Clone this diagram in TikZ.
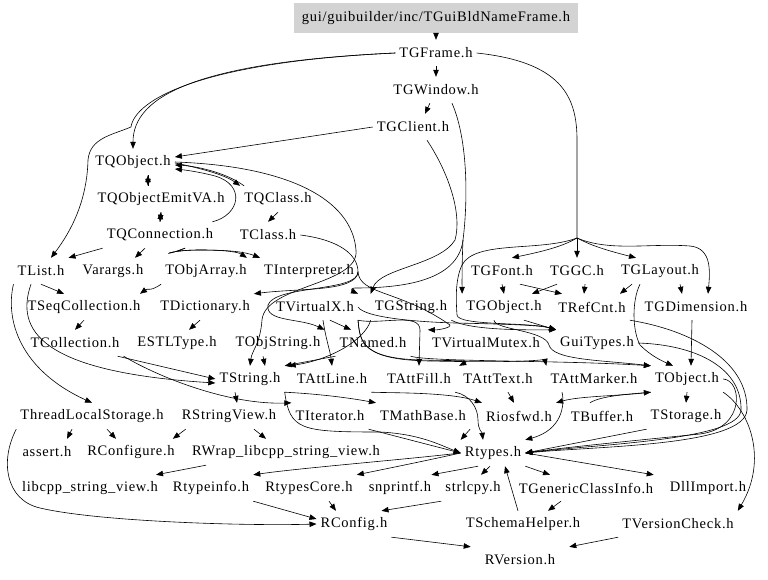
\documentclass[tikz,border=0pt]{standalone}
\usepackage{fontspec}
\setmainfont{Liberation Serif}[LetterSpace=5]
\usetikzlibrary{arrows.meta}
\definecolor{rootgray}{RGB}{211,211,211}
\begin{document}
\begin{tikzpicture}[x=1pt,y=-1pt,
  hdr/.style={inner xsep=4pt, inner ysep=0pt, minimum height=26pt, font=\fontsize{14.5}{16}\selectfont},
  dep/.style={line width=0.6pt, -{Triangle[length=7pt,width=5.5pt]}},
  plain/.style={line width=0.6pt}]
\useasboundingbox (0,0) rectangle (768,580);
\node[hdr, fill=rootgray, minimum width=284pt, minimum height=30pt] (root) at (436,18) {gui/guibuilder/inc/TGuiBldNameFrame.h};
\node[hdr] (gframe) at (436,53) {TGFrame.h};
\node[hdr] (gwindow) at (436,90) {TGWindow.h};
\node[hdr] (gclient) at (413,127) {TGClient.h};
\node[hdr] (qobject) at (133,162) {TQObject.h};
\node[hdr] (qemit) at (161,199) {TQObjectEmitVA.h};
\node[hdr] (qclass) at (278,199) {TQClass.h};
\node[hdr] (qconn) at (160,235) {TQConnection.h};
\node[hdr] (tclass) at (268,235) {TClass.h};
\node[hdr] (tlist) at (41,271) {TList.h};
\node[hdr] (varargs) at (113,271) {Varargs.h};
\node[hdr] (objarray) at (206,271) {TObjArray.h};
\node[hdr] (interp) at (309,271) {TInterpreter.h};
\node[hdr] (gfont) at (502,271) {TGFont.h};
\node[hdr] (ggc) at (577,271) {TGGC.h};
\node[hdr] (glayout) at (660,271) {TGLayout.h};
\node[hdr] (seqcoll) at (84,307) {TSeqCollection.h};
\node[hdr] (dict) at (205,307) {TDictionary.h};
\node[hdr] (vx) at (315,307) {TVirtualX.h};
\node[hdr] (gstring) at (411,307) {TGString.h};
\node[hdr] (gobject) at (504,307) {TGObject.h};
\node[hdr] (refcnt) at (592,307) {TRefCnt.h};
\node[hdr] (gdim) at (696,307) {TGDimension.h};
\node[hdr] (coll) at (75,343) {TCollection.h};
\node[hdr] (estl) at (177,343) {ESTLType.h};
\node[hdr] (objstr) at (278,343) {TObjString.h};
\node[hdr] (named) at (373,343) {TNamed.h};
\node[hdr] (vmutex) at (486,343) {TVirtualMutex.h};
\node[hdr] (guitypes) at (597,343) {GuiTypes.h};
\node[hdr] (string) at (250,379) {TString.h};
\node[hdr] (attline) at (332,379) {TAttLine.h};
\node[hdr] (attfill) at (419,379) {TAttFill.h};
\node[hdr] (atttext) at (498,379) {TAttText.h};
\node[hdr] (attmarker) at (594,379) {TAttMarker.h};
\node[hdr] (object) at (687,379) {TObject.h};
\node[hdr] (tls) at (92,416) {ThreadLocalStorage.h};
\node[hdr] (rsv) at (229,416) {RStringView.h};
\node[hdr] (iter) at (330,416) {TIterator.h};
\node[hdr] (mathbase) at (423,416) {TMathBase.h};
\node[hdr] (riosfwd) at (519,416) {Riosfwd.h};
\node[hdr] (buffer) at (602,416) {TBuffer.h};
\node[hdr] (storage) at (686,416) {TStorage.h};
\node[hdr] (assert) at (47,452) {assert.h};
\node[hdr] (rconfigure) at (131,452) {RConfigure.h};
\node[hdr] (rwrap) at (286,452) {RWrap\_libcpp\_string\_view.h};
\node[hdr] (rtypes) at (493,453) {Rtypes.h};
\node[hdr] (libcpp) at (90,488) {libcpp\_string\_view.h};
\node[hdr] (rtypeinfo) at (211,488) {Rtypeinfo.h};
\node[hdr] (rtypescore) at (309,488) {RtypesCore.h};
\node[hdr] (snprintf) at (400,488) {snprintf.h};
\node[hdr] (strlcpy) at (473,488) {strlcpy.h};
\node[hdr] (gci) at (586,488) {TGenericClassInfo.h};
\node[hdr] (dllimport) at (708,488) {DllImport.h};
\node[hdr] (rconfig) at (354,524) {RConfig.h};
\node[hdr] (schema) at (523,524) {TSchemaHelper.h};
\node[hdr] (vcheck) at (678,524) {TVersionCheck.h};
\node[hdr] (rversion) at (520,560) {RVersion.h};
\coordinate (trunk) at (577,238);
\coordinate (cj) at (358,272);
\coordinate (wj) at (463,240);

% top chain
\draw[dep] (root) -- (gframe);
\draw[dep] (gframe) -- (gwindow);
\draw[dep] (gwindow) -- ([xshift=12pt]gclient.north);
\draw[dep] (gframe.west) .. controls (200,62) and (133,95) .. (qobject.north);
\draw[plain] (gframe.west) .. controls (200,62) and (135,100) .. (131,127);
\draw[dep] (131,127) .. controls (112,135) and (90,138) .. (88,160) .. controls (87,200) and (72,230) .. ([xshift=10pt]tlist.north);
% TGFrame right trunk
\draw[plain] (gframe.east) .. controls (560,62) and (577,95) .. (577,140) -- (trunk);
\draw[dep] (trunk) .. controls (565,245) and (550,250) .. ([xshift=10pt]gfont.north);
\draw[dep] (trunk) -- (ggc.north);
\draw[dep] (trunk) .. controls (590,245) and (605,250) .. ([xshift=-24pt]glayout.north);
\draw[dep] (trunk) .. controls (610,252) and (650,243) .. (690,246) .. controls (712,248) and (710,272) .. ([xshift=12pt]gdim.north);
\draw[dep] (trunk) .. controls (540,252) and (475,240) .. (462,265) .. controls (455,280) and (456,300) .. (457,315) .. controls (458,326) and (530,322) .. (guitypes.north west);
% TGWindow / TGClient
\draw[dep] (gclient.west) -- ([yshift=5pt]qobject.east);
\draw[dep] ([xshift=14pt]gclient.south) .. controls (450,175) and (462,215) .. (455,240) .. controls (440,265) and (380,268) .. (gstring.north west);
\draw[plain] ([xshift=16pt]gwindow.south) .. controls (468,140) and (468,200) .. (wj);
\draw[dep] (wj) .. controls (462,262) and (462,280) .. (gobject.north west);
\draw[dep] (wj) .. controls (458,282) and (400,288) .. (355,288) .. controls (352,288) and (350,290) .. (vx.north east);
% TQObject cluster
\draw[dep] ([xshift=15pt]qobject.south) -- ([xshift=-13pt]qemit.north);
\draw[dep] ([xshift=-13pt]qemit.north) -- ([xshift=15pt]qobject.south);
\draw[dep] (qemit.south) -- (qconn.north);
\draw[dep] (qconn.north) -- (qemit.south);
\draw[dep] ([yshift=-1pt]qobject.east) .. controls (200,168) and (225,175) .. (qclass.north west);
\draw[dep] ([xshift=4pt]qclass.north west) .. controls (225,172) and (195,166) .. ([yshift=-3pt]qobject.east);
\draw[dep] ([xshift=-5pt]qconn.north east) .. controls (240,215) and (246,185) .. (215,176) .. controls (200,172) and (185,170) .. ([yshift=-7pt]qobject.east);
\draw[dep] (qclass.south) -- (tclass.north);
\draw[dep] (qconn.south west) -- (tlist.north east);
\draw[dep] ([xshift=-15pt]qconn.south) -- ([xshift=22pt]varargs.north);
\draw[dep] (qobject.east) .. controls (290,166) and (352,200) .. (356,250) .. controls (360,285) and (265,285) .. (262,320) .. controls (260,345) and (252,350) .. (string.north);
\draw[dep] ([xshift=25pt]qconn.south) .. controls (160,258) and (165,250) .. (200,250) .. controls (230,250) and (245,252) .. (interp.north west);
\draw[dep] ([xshift=25pt]qconn.south) .. controls (160,258) and (165,250) .. (200,250) .. controls (225,250) and (238,252) .. ([xshift=-4pt]objarray.north east);
% TClass
\draw[plain] (tclass.east) .. controls (340,240) and (358,255) .. (cj);
\draw[dep] (cj) .. controls (356,292) and (300,288) .. (dict.north east);
\draw[dep] (cj) .. controls (358,292) and (275,285) .. (268,305) .. controls (265,322) and (300,318) .. (objstr.north east);
\draw[dep] (cj) .. controls (360,295) and (400,290) .. (450,325) .. controls (452,327) and (440,330) .. (vmutex.north west);
% collections
\draw[dep] (tlist.south) -- ([xshift=-20pt]seqcoll.north);
\draw[dep] (objarray.south west) .. controls (150,292) and (148,288) .. ([xshift=56pt]seqcoll.north);
\draw[dep] (seqcoll.south) -- (coll.north);
\draw[dep] ([xshift=-6pt]coll.south east) -- (string.west);
\draw[dep] (coll.south east) .. controls (160,378) and (230,405) .. (iter.north west);
\draw[dep] (tlist.south west) .. controls (5,320) and (20,370) .. (tls.north);
\draw[dep] ([xshift=-10pt]tlist.south) .. controls (15,330) and (40,372) .. ([yshift=-4pt]string.west);
\draw[dep] ([xshift=-5pt]dict.south) -- ([xshift=12pt]estl.north);
\draw[dep] ([xshift=-15pt]objstr.south) -- ([xshift=15pt]string.north);
\draw[dep] (named.south west) -- (string.north east);
% TVirtualX
\draw[dep] ([xshift=15pt]vx.south) -- ([xshift=-22pt]named.north);
\draw[dep] ([xshift=8pt]vx.south) .. controls (326,340) and (330,350) .. (attline.north);
\draw[dep] (vx.south east) .. controls (380,325) and (420,312) .. (420,330) -- (attfill.north);
\draw[dep] (vx.south east) .. controls (360,340) and (360,358) .. (420,360) .. controls (460,361) and (470,360) .. (atttext.north west);
\draw[dep] (vx.south east) .. controls (360,342) and (362,360) .. (430,361) .. controls (520,363) and (545,360) .. (attmarker.north west);
\draw[dep] (vx.east) .. controls (365,318) and (420,322) .. (455,323) .. controls (500,324) and (540,325) .. (guitypes.north west);
\draw[dep] (named.south east) .. controls (430,362) and (560,360) .. (object.north west);
% TG* others
\draw[dep] (gstring.south west) .. controls (365,340) and (330,360) .. ([xshift=4pt]string.north east);
\draw[dep] (gstring.south east) .. controls (470,330) and (520,330) .. (guitypes.north west);
\draw[dep] ([xshift=-10pt]gobject.south) .. controls (495,330) and (545,330) .. (549,345) .. controls (553,360) and (600,360) .. (object.north west);
\draw[dep] ([xshift=20pt]gobject.south) -- (guitypes.north west);
\draw[dep] (gfont.south) -- (gobject.north);
\draw[dep] ([xshift=18pt]gfont.south) -- ([xshift=-30pt]refcnt.north);
\draw[dep] ([xshift=-20pt]ggc.south) -- ([xshift=28pt]gobject.north);
\draw[dep] ([xshift=8pt]ggc.south) -- ([xshift=-8pt]refcnt.north);
\draw[dep] ([xshift=-28pt]glayout.south) -- ([xshift=28pt]refcnt.north);
\draw[dep] ([xshift=20pt]glayout.south) -- ([xshift=-14pt]gdim.north);
\draw[dep] ([xshift=-20pt]glayout.south) .. controls (632,300) and (632,330) .. (640,345) .. controls (650,355) and (660,360) .. ([xshift=-14pt]object.north);
\draw[dep] ([xshift=-4pt]gdim.south) -- ([xshift=4pt]object.north);
\draw[dep] (refcnt.south east) .. controls (690,330) and (748,360) .. (747,410) .. controls (745,446) and (600,446) .. (rtypes.east);
\draw[dep] (guitypes.east) .. controls (700,345) and (742,370) .. (741,410) .. controls (740,440) and (600,444) .. (rtypes.east);
% TString and friends
\draw[dep] ([xshift=-15pt]string.south) -- ([xshift=8pt]rsv.north);
\draw[dep] (string.south east) .. controls (320,394) and (350,398) .. (mathbase.north west);
\draw[dep] (string.south east) .. controls (290,430) and (300,432) .. (380,432) .. controls (420,434) and (440,445) .. (rtypes.west);
\draw[dep] (attline.south east) .. controls (390,393) and (450,392) .. (riosfwd.north west);
\draw[dep] ([xshift=10pt]atttext.south) -- ([xshift=-5pt]riosfwd.north);
\draw[dep] (attfill.south east) .. controls (470,395) and (478,408) .. (478,420) .. controls (478,430) and (482,432) .. ([xshift=-10pt]rtypes.north);
\draw[dep] ([xshift=-32pt]attmarker.south) .. controls (565,405) and (562,430) .. (rtypes.north east);
\draw[dep] (object.south west) .. controls (620,396) and (580,396) .. (riosfwd.north east);
\draw[dep] ([xshift=-12pt]buffer.north) .. controls (600,396) and (630,394) .. (object.south west);
\draw[dep] (object.south) -- (storage.north);
\draw[dep] (object.east) .. controls (742,380) and (746,428) .. (700,434) .. controls (620,442) and (560,448) .. (rtypes.east);
\draw[dep] (storage.south west) -- (rtypes.east);
\draw[dep] (object.south east) .. controls (750,410) and (768,460) .. (vcheck.north east);
\draw[dep] (mathbase.south east) -- (rtypes.north west);
\draw[dep] (iter.south east) -- (rtypes.west);
% Rtypes
\draw[dep] (rtypes.west) .. controls (400,460) and (300,468) .. (rtypeinfo.north east);
\draw[dep] (rtypes.west) .. controls (420,462) and (380,470) .. (rtypescore.north east);
\draw[dep] ([xshift=-15pt]rtypes.south) -- ([xshift=-4pt]snprintf.north east);
\draw[dep] ([xshift=-3pt]rtypes.south) -- ([xshift=8pt]strlcpy.north);
\draw[dep] (rtypes.south east) -- ([xshift=-36pt]gci.north);
\draw[dep] (rtypes.east) -- ([xshift=-12pt]dllimport.north west);
\draw[dep] ([xshift=-5pt]schema.north) -- ([xshift=12pt]rtypes.south);
\draw[dep] ([xshift=-25pt]gci.south) -- ([xshift=25pt]schema.north);
% bottom
\draw[dep] ([xshift=-20pt]tls.south) -- ([xshift=20pt]assert.north);
\draw[dep] ([xshift=15pt]tls.south) -- ([xshift=-15pt]rconfigure.north);
\draw[dep] ([xshift=8pt]rsv.south west) -- ([xshift=-6pt]rconfigure.north east);
\draw[dep] ([xshift=25pt]rsv.south) -- ([xshift=-20pt]rwrap.north);
\draw[dep] ([xshift=-80pt]rwrap.south) -- ([xshift=-6pt]libcpp.north east);
\draw[dep] (tls.south west) .. controls (0,460) and (5,500) .. (40,508) .. controls (100,522) and (250,526) .. (rconfig.west);
\draw[dep] (rtypeinfo.south east) -- ([yshift=5pt]rconfig.west);
\draw[dep] ([xshift=20pt]rtypescore.south) -- ([xshift=-18pt]rconfig.north);
\draw[dep] (strlcpy.south west) -- ([xshift=-10pt]rconfig.north east);
\draw[dep] (rconfig.south east) -- ([xshift=-10pt]rversion.north west);
\draw[dep] (vcheck.south west) -- ([xshift=10pt]rversion.north east);
\end{tikzpicture}
\end{document}
